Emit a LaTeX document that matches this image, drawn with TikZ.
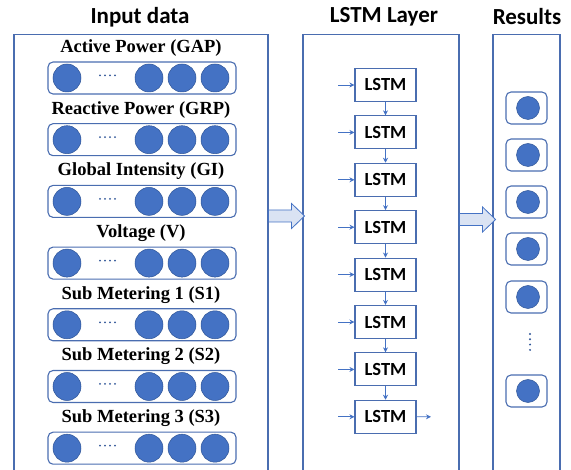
\documentclass[tikz,border=0pt]{standalone}
\usepackage{fontspec}
\setmainfont{Liberation Serif}
\newfontfamily\calibri{Carlito}
\usepackage{tikz}
\usetikzlibrary{arrows.meta}

\definecolor{lineblue}{HTML}{4A6DB0}
\definecolor{unitblue}{HTML}{4472C4}
\definecolor{unitedge}{HTML}{2F5597}
\definecolor{arrowfill}{HTML}{DAE3F3}

\begin{document}
\begin{tikzpicture}[x=1pt,y=-1pt,
    panel/.style={draw=lineblue, line width=1.1pt, minimum width=#1,
                  minimum height=480, anchor=north, inner sep=0pt},
    title/.style={font=\calibri\bfseries\fontsize{23}{26}\selectfont},
    rowlabel/.style={font=\bfseries\fontsize{18.5}{20}\selectfont},
    rowbox/.style={draw=lineblue, line width=1.1pt, rounded corners=5pt,
                   minimum width=188, minimum height=32},
    unit/.style={circle, fill=unitblue, draw=unitedge, line width=0.5pt,
                 minimum size=#1, inner sep=0pt},
    unit/.default=28,
    lstm/.style={draw=lineblue, line width=1.1pt, minimum width=61,
                 minimum height=33, inner sep=0pt,
                 font=\calibri\bfseries\fontsize{18.5}{20}\selectfont},
    resbox/.style={draw=lineblue, line width=1.1pt, rounded corners=5pt,
                   minimum width=41, minimum height=32},
    flow/.style={draw=unitblue, line width=0.9pt, -{Stealth[length=5pt,width=5pt]}},
    blockarrow/.pic={
      \draw[draw=unitblue, fill=arrowfill, line width=0.8pt]
        (0,-6) -- (23,-6) -- (23,-12.5) -- (36,0) -- (23,12.5) -- (23,6) -- (0,6) -- cycle;
    }]
  \useasboundingbox (0,0) rectangle (571,470);
  \clip (0,0) rectangle (571,470);

  % panels and titles
  \node[panel=254] (inpanel) at (141,34) {};
  \node[panel=156] (lstmpanel) at (381,34) {};
  \node[panel=67] (respanel) at (526.5,34) {};
  \node[title] (t-in) at (140,17) {Input data};
  \node[title] (t-lstm) at (384,17) {LSTM Layer};
  \node[title] (t-res) at (527,17) {Results};

  % input rows
  \foreach \lbl [count=\i from 0] in {Active Power (GAP), Reactive Power (GRP),
      Global Intensity (GI), Voltage (V), Sub Metering 1 (S1),
      Sub Metering 2 (S2), Sub Metering 3 (S3)} {
    \pgfmathsetmacro\yy{78+61.7*\i}
    \node[rowlabel] (lbl\i) at (141,\yy-30) {\lbl};
    \node[rowbox] (row\i) at (142,\yy) {};
    \node[unit] (u\i-1) at (67,\yy) {};
    \node[unit] (u\i-2) at (149,\yy) {};
    \node[unit] (u\i-3) at (182,\yy) {};
    \node[unit] (u\i-4) at (215,\yy) {};
    \foreach \d in {0,...,3}
      \fill[unitedge] (100+5*\d,\yy-2.5) circle (1);
  }

  % LSTM chain
  \foreach \i in {0,...,7} {
    \pgfmathsetmacro\yy{85+47.4*\i}
    \node[lstm] (l\i) at (385.5,\yy) {LSTM};
    \coordinate (in\i) at (338,\yy);
    \draw[flow] (in\i) -- (l\i);
  }
  \foreach \i in {1,...,7} {
    \pgfmathtruncatemacro\j{\i-1}
    \draw[flow] (l\j) -- (l\i);
  }
  \coordinate (out) at (431,416.8);
  \draw[flow] (l7) -- (out);

  % results
  \foreach \yy [count=\i] in {108,155,202,249,297,391} {
    \node[resbox] (r\i) at (526.5,\yy) {};
    \node[unit=23] (o\i) at (528,\yy) {};
  }
  \foreach \d in {0,...,3}
    \fill[unitedge] (530,334+5.3*\d) circle (1.1);

  % block arrows between panels
  \pic at (inpanel.north east |- 0,216) {blockarrow};
  \pic at (lstmpanel.north east |- 0,219.5) {blockarrow};
\end{tikzpicture}
\end{document}
